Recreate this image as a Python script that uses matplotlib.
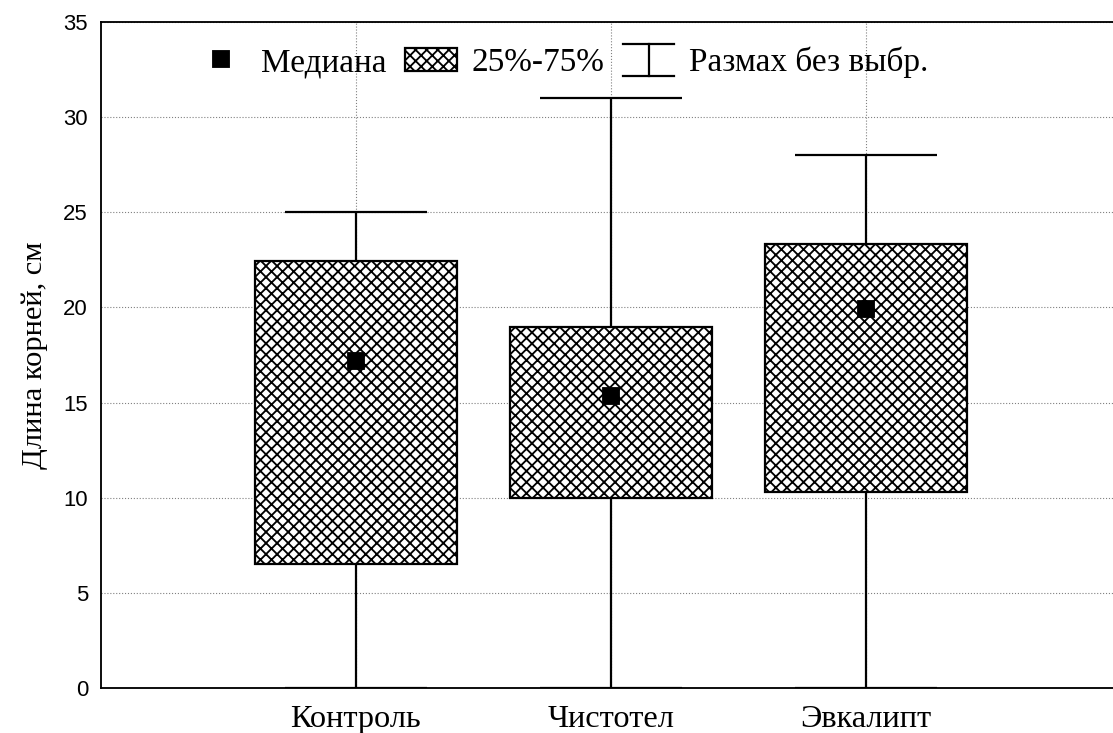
import numpy as np
import matplotlib.pyplot as plt
from matplotlib.patches import Patch
from matplotlib.lines import Line2D
from matplotlib.legend_handler import HandlerBase

groups = ["Контроль", "Чистотел", "Эвкалипт"]
medians = [17.2, 15.35, 19.9]
q25 = [6.5, 10.0, 10.3]
q75 = [22.45, 18.95, 23.35]
whisk_lo = [0.0, 0.0, 0.0]
whisk_hi = [25.0, 31.0, 28.0]
yticks = [0, 5, 10, 15, 20, 25, 30, 35]

SERIF = "Liberation Serif"
SANS = "Liberation Sans"
DPI = 133


class WhiskerKey:
    pass


class WhiskerHandler(HandlerBase):
    def create_artists(self, legend, orig_handle, xdescent, ydescent,
                       width, height, fontsize, trans):
        x0 = -xdescent
        x1 = x0 + width
        cx = (x0 + x1) / 2
        yb = -ydescent - 0.2 * height
        yt = -ydescent + 1.15 * height
        kw = dict(color="black", lw=1.2, transform=trans)
        return [Line2D([x0, x1], [yt, yt], **kw),
                Line2D([cx, cx], [yb, yt], **kw),
                Line2D([x0, x1], [yb, yb], **kw)]


plt.rcParams["hatch.linewidth"] = 1.0
plt.rcParams["hatch.color"] = "black"

fig = plt.figure(figsize=(1113 / DPI, 733 / DPI), dpi=DPI)
ax = fig.add_axes([0.0907, 0.0614, 0.9165, 0.9086])

x = np.arange(1, len(groups) + 1)
lo = np.array(q25)
hi = np.array(q75)

ax.bar(x, hi - lo, bottom=lo, width=0.79, facecolor="white",
       edgecolor="black", hatch="xxxx", linewidth=1.2, zorder=3)
ax.vlines(x, hi, whisk_hi, color="black", lw=1.2, zorder=3)
ax.vlines(x, whisk_lo, lo, color="black", lw=1.2, zorder=3)
ax.hlines(whisk_hi, x - 0.28, x + 0.28, color="black", lw=1.2, zorder=3)
ax.hlines(whisk_lo, x - 0.28, x + 0.28, color="black", lw=1.2, zorder=3)
ax.plot(x, medians, "s", color="black", markersize=8.5, zorder=4)

ax.set_xlim(0, 4)
ax.set_ylim(0, 35)
ax.set_xticks(x)
ax.set_xticklabels(groups, fontfamily=SERIF, fontsize=17.5)
ax.set_yticks(yticks)
ax.set_yticklabels([str(v) for v in yticks], fontfamily=SANS, fontsize=12)
ax.tick_params(axis="both", length=0)
ax.tick_params(axis="y", pad=7)
ax.tick_params(axis="x", pad=9)
ax.set_ylabel("Длина корней, см", fontfamily=SERIF, fontsize=16.5, labelpad=8)

ax.grid(True, linestyle=":", color="gray", lw=0.6, zorder=0)
ax.set_axisbelow(True)
for s in ax.spines.values():
    s.set_linewidth(1.0)

wkey = WhiskerKey()
handles = [
    Line2D([], [], marker="s", ls="none", color="black", markersize=8.5),
    Patch(facecolor="white", edgecolor="black", hatch="xxxx", lw=1.2),
    wkey,
]
labels = ["Медиана", "25%-75%", "Размах без выбр."]
ax.legend(handles, labels, loc="upper left", bbox_to_anchor=(0.092, 0.963),
          ncol=3, frameon=False, borderpad=0, borderaxespad=0,
          handlelength=1.55, handletextpad=0.45, columnspacing=0.55,
          prop={"family": SERIF, "size": 18},
          handler_map={wkey: WhiskerHandler()})

fig.savefig("out.png", dpi=DPI)
